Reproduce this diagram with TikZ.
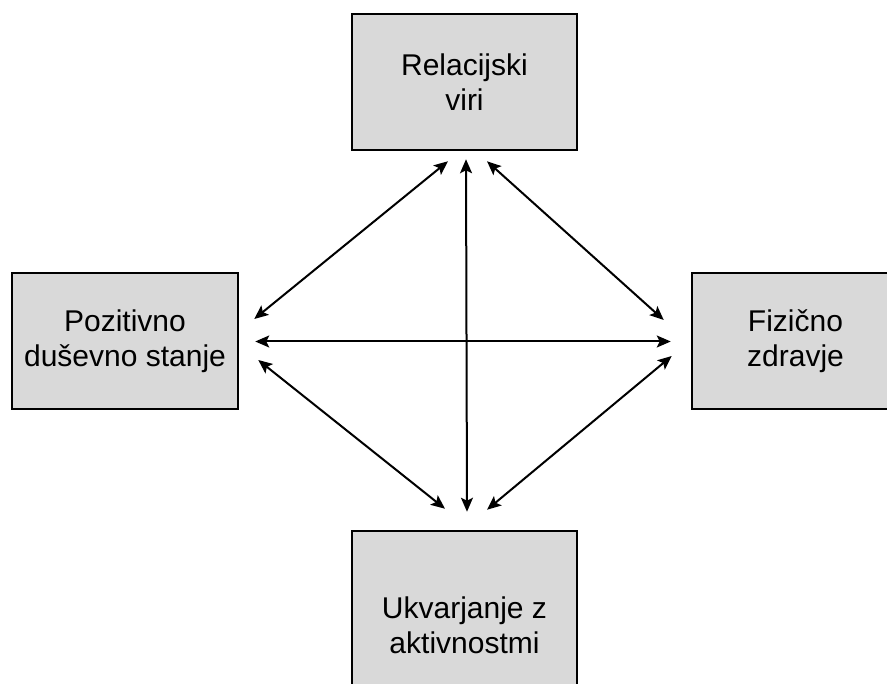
\documentclass[tikz,border=0pt]{standalone}
\usepackage{fontspec}
\setmainfont{Liberation Sans}
\usetikzlibrary{arrows.meta}
\begin{document}
\begin{tikzpicture}[x=1pt,y=-1pt,
  box/.style={draw=black,line width=2.5pt,fill={rgb,255:red,217;green,217;blue,217},
    inner sep=0pt,align=center,font=\fontsize{30}{35}\selectfont},
  link/.style={line width=2pt,{Stealth[length=14pt,width=12pt,inset=3pt]}-{Stealth[length=14pt,width=12pt,inset=3pt]}}]
\useasboundingbox (0,0) rectangle (887,684);
\clip (0,0) rectangle (887,684);
\fill[white] (0,0) rectangle (887,684);

% the four boxes
\node[box,minimum width=225pt,minimum height=136pt] (rel) at (464.5,82) {Relacijski\\viri};
\node[box,minimum width=226pt,minimum height=136pt] (duh) at (125,341) {Pozitivno\\duševno stanje};
\node[box,minimum width=207pt,minimum height=136pt] (fiz) at (795.5,341) {Fizično\\zdravje};
\node[box,minimum width=225pt,minimum height=188pt] (akt) at (464.5,625) {Ukvarjanje z\\aktivnostmi};

% arrow ends near each box
\coordinate (rA) at ([shift={(-16.5,10)}]rel.south);
\coordinate (rB) at ([shift={(1.5,8)}]rel.south);
\coordinate (rC) at ([shift={(22.5,10)}]rel.south);
\coordinate (dA) at ([shift={(15,-22)}]duh.east);
\coordinate (dB) at ([shift={(16,0.5)}]duh.east);
\coordinate (dC) at ([shift={(19,19)}]duh.east);
\coordinate (fA) at ([shift={(-27,-21)}]fiz.west);
\coordinate (fB) at ([shift={(-20,0.5)}]fiz.west);
\coordinate (fC) at ([shift={(-19,15)}]fiz.west);
\coordinate (aA) at ([shift={(-19.5,-21)}]akt.north);
\coordinate (aB) at ([shift={(2.5,-18)}]akt.north);
\coordinate (aC) at ([shift={(22.5,-20)}]akt.north);

% two-way links
\draw[link] (rB) -- (aB);
\draw[link] (dB) -- (fB);
\draw[link] (rA) -- (dA);
\draw[link] (rC) -- (fA);
\draw[link] (dC) -- (aA);
\draw[link] (fC) -- (aC);
\end{tikzpicture}
\end{document}
